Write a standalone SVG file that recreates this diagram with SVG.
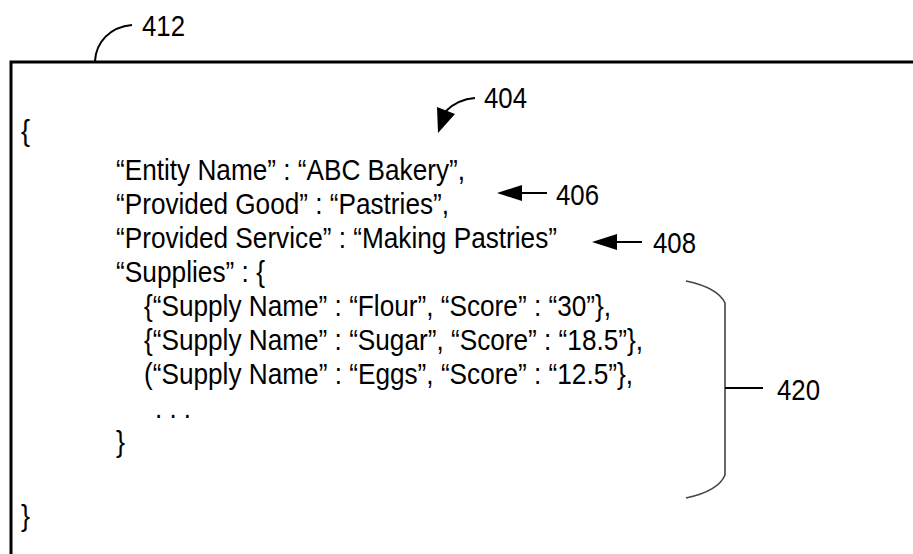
<svg xmlns="http://www.w3.org/2000/svg" width="913" height="554" viewBox="0 0 913 554">
  <style>
    text { font-family: "Liberation Sans", Arial, sans-serif; font-size: 30px; fill: #000; }
    .frame { fill: none; stroke: #000; stroke-width: 3; }
    .lead { fill: none; stroke: #000; stroke-width: 2; }
    .brace { fill: none; stroke: #444; stroke-width: 1.6; }
    .head { fill: #000; stroke: none; }
  </style>
  <rect width="913" height="554" fill="#fff"/>

  <!-- record panel: open frame running off the right and bottom edges -->
  <g id="record-412">
    <path class="frame" d="M11,554 L11,62 L913,62"/>
    <text x="21" y="141" textLength="9" lengthAdjust="spacingAndGlyphs">{</text>
    <text x="116" y="180" textLength="349" lengthAdjust="spacingAndGlyphs">“Entity Name” : “ABC Bakery”,</text>
    <text x="116" y="214" textLength="333" lengthAdjust="spacingAndGlyphs">“Provided Good” : “Pastries”,</text>
    <text x="116" y="248" textLength="441" lengthAdjust="spacingAndGlyphs">“Provided Service” : “Making Pastries”</text>
    <text x="116" y="282" textLength="149" lengthAdjust="spacingAndGlyphs">“Supplies” : {</text>
    <g id="supplies-420">
      <text x="144" y="316" textLength="467" lengthAdjust="spacingAndGlyphs">{“Supply Name” : “Flour”, “Score” : “30”},</text>
      <text x="144" y="350" textLength="499" lengthAdjust="spacingAndGlyphs">{“Supply Name” : “Sugar”, “Score” : “18.5”},</text>
      <text x="144" y="384" textLength="489" lengthAdjust="spacingAndGlyphs">(“Supply Name” : “Eggs”, “Score” : “12.5”},</text>
      <text x="155" y="418" textLength="36" lengthAdjust="spacingAndGlyphs">. . .</text>
    </g>
    <text x="116" y="452" textLength="9" lengthAdjust="spacingAndGlyphs">}</text>
    <text x="21" y="526" textLength="9" lengthAdjust="spacingAndGlyphs">}</text>
  </g>

  <!-- reference numerals -->
  <g id="label-412"><text x="142" y="36" textLength="43" lengthAdjust="spacingAndGlyphs">412</text></g>
  <g id="label-404"><text x="484" y="108" textLength="43" lengthAdjust="spacingAndGlyphs">404</text></g>
  <g id="label-406"><text x="556" y="205" textLength="43" lengthAdjust="spacingAndGlyphs">406</text></g>
  <g id="label-408"><text x="653" y="253" textLength="43" lengthAdjust="spacingAndGlyphs">408</text></g>
  <g id="label-420"><text x="777" y="400" textLength="43" lengthAdjust="spacingAndGlyphs">420</text></g>

  <!-- lead lines and arrows -->
  <g id="connectors">
    <path class="lead" d="M95,61 C96,42 110,27 132,25"/>
    <path class="lead" d="M475,98 C462,99 453,104 446,111"/>
    <polygon class="head" points="437,107 455,114 438,133"/>
    <path class="lead" d="M520,193 L547,193"/>
    <polygon class="head" points="497,193 522,185 522,201"/>
    <path class="lead" d="M615,242 L642,242"/>
    <polygon class="head" points="592,242 617,234 617,250"/>
    <path class="brace" d="M686,281 C705,285 720,292 725,303 L725,475 C720,487 705,494 686,498"/>
    <path class="lead" d="M725,388 L763,388"/>
  </g>
</svg>
